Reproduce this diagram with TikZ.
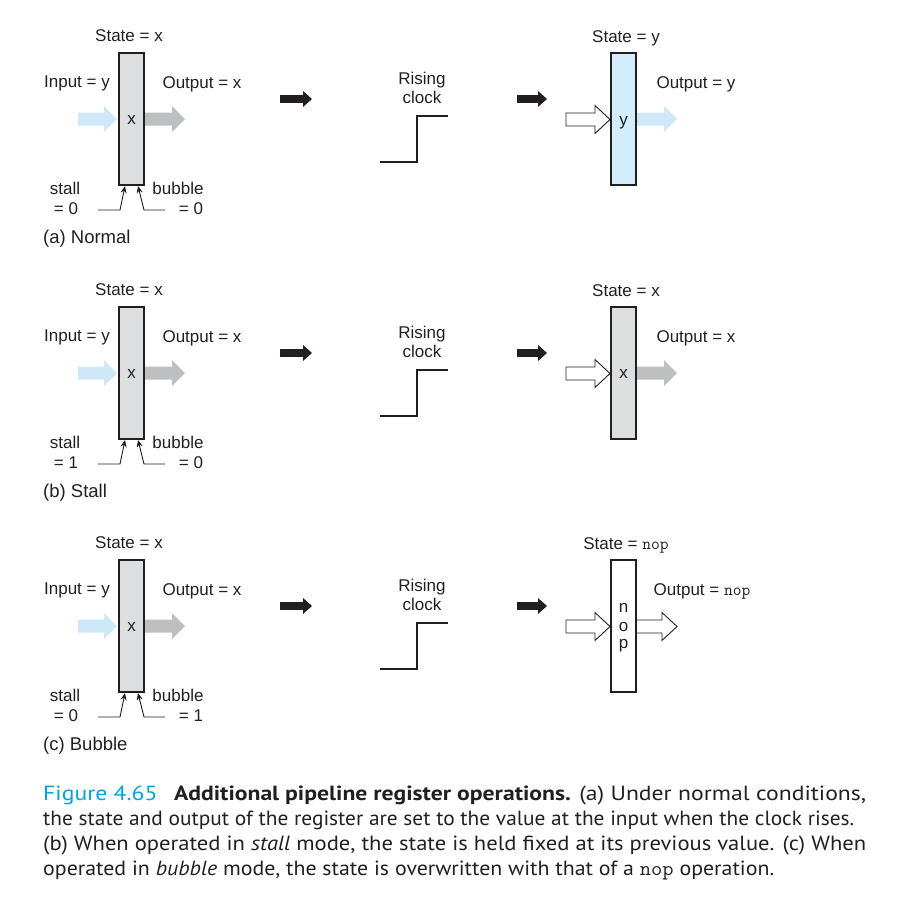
\documentclass[tikz,border=0pt]{standalone}
\usepackage{fontspec}
\usepackage{graphicx}
\setmainfont{Liberation Sans}
\newfontfamily\capfont{PT Sans}
\usetikzlibrary{arrows.meta}
\definecolor{reggray}{RGB}{221,222,223}
\definecolor{regblue}{RGB}{212,237,250}
\definecolor{arrblue}{RGB}{207,232,248}
\definecolor{arrgray}{RGB}{190,191,193}
\definecolor{figcyan}{RGB}{0,162,224}
\definecolor{ink}{RGB}{35,31,32}
% block arrow: #1 style, #2 x start, #3 x end, #4 y, #5 half shaft, #6 half head, #7 head length
\newcommand\blockarrow[7]{%
  \path[#1] (#2,#4-#5) -- (#3-#7,#4-#5) -- (#3-#7,#4-#6) -- (#3,#4)
    -- (#3-#7,#4+#6) -- (#3-#7,#4+#5) -- (#2,#4+#5) -- cycle;}
% left half of a panel: #1 offset, #2 id, #3 stall, #4 bubble, #5 label
\newcommand\leftpanel[5]{%
  \begin{scope}[yshift=-#1pt]
    \blockarrow{fill=arrblue}{78}{117}{119}{6.5}{13}{13}
    \blockarrow{fill=arrgray}{145}{185}{119}{6.5}{13}{13}
    \node[reg, fill=reggray] (L#2) at (131.5,119) {};
    \node[lbl] at (131.5,124) {x};
    \node[lbl] at (129,41.5) {State = x};
    \node[lbl] at (77,87) {Input = y};
    \node[lbl] at (202,88) {Output = x};
    \node[lbl] at (65,194) {stall};
    \node[lbl] at (66,214) {= #3};
    \node[lbl] at (178,194) {bubble};
    \node[lbl] at (191,214) {= #4};
    \node[lbl, anchor=base west, font=\fontsize{18.5}{22}\selectfont] at (43,243) {#5};
    \coordinate (S#2) at (98,210);
    \coordinate (B#2) at (165,210);
    \draw[ctl] (S#2) -- ++(22,0) -- ([xshift=-6.5pt]L#2.south);
    \draw[ctl] (B#2) -- ++(-21,0) -- ([xshift=6.5pt]L#2.south);
    \blockarrow{fill=ink}{280}{312}{99}{3.8}{8}{9}
    \node[lbl] (R#2) at (422,84) {Rising};
    \node[lbl] at (422,103) {clock};
    \coordinate (C#2) at (380,162);
    \draw[clk] (C#2) -- ++(37,0) -- ++(0,-46) -- ++(31,0);
    \blockarrow{fill=ink}{517}{547}{99}{3.8}{8}{9}
    \blockarrow{draw=ink, line width=0.9pt, fill=white}{566}{610}{119.5}{6.5}{14}{15}
  \end{scope}}
\begin{document}
\begin{tikzpicture}[x=1pt,y=-1pt,
  font=\fontsize{17}{20}\selectfont,
  lbl/.style={anchor=base, inner sep=0pt, text=ink},
  reg/.style={draw=ink, line width=2.2pt, minimum width=25pt, minimum height=132pt, inner sep=0pt},
  ctl/.style={draw=ink, line width=0.9pt, -{Stealth[length=7pt,width=6pt]}},
  clk/.style={draw=ink, line width=1.8pt},
  capline/.style={anchor=base west, inner sep=0pt, text=ink, font=\capfont\fontsize{20.5}{24}\selectfont}]
\useasboundingbox (0,0) rectangle (916,919);

% (a) Normal
\leftpanel{0}{a}{0}{0}{(a) Normal}
\blockarrow{fill=arrblue}{636}{677}{119}{6.5}{13}{13}
\node[reg, fill=regblue] (Ra) at (623.5,119) {};
\node[lbl] at (623.5,125) {y};
\node[lbl] at (626,42) {State = y};
\node[lbl] at (696,88) {Output = y};

% (b) Stall
\leftpanel{254}{b}{1}{0}{(b) Stall}
\begin{scope}[yshift=-254pt]
\blockarrow{fill=arrgray}{636}{677}{119}{6.5}{13}{13}
\node[reg, fill=reggray] (Rb) at (623.5,119) {};
\node[lbl] at (623.5,124) {x};
\node[lbl] at (626,42) {State = x};
\node[lbl] at (696,88) {Output = x};
\end{scope}

% (c) Bubble
\leftpanel{507}{c}{0}{1}{(c) Bubble}
\begin{scope}[yshift=-507pt]
\blockarrow{draw=ink, line width=0.9pt, fill=white}{636}{677}{119.5}{6.5}{14}{15}
\node[reg, fill=white] (Rc) at (623.5,119) {};
\node[lbl] at (623.5,105) {n};
\node[lbl] at (623.5,124) {o};
\node[lbl] at (623.5,141) {p};
\node[lbl] at (626,42) {State = {\ttfamily nop}};
\node[lbl] at (702,88) {Output = {\ttfamily nop}};
\end{scope}

% caption
\node[capline] (cap1) at (43,800) {\resizebox{823pt}{\height}{{\color{figcyan}Figure 4.65}\hspace{0.7em}\textbf{Additional pipeline register operations.} (a) Under normal conditions,}};
\node[capline] (cap2) at (43,825) {\resizebox{811pt}{\height}{the state and output of the register are set to the value at the input when the clock rises.}};
\node[capline] (cap3) at (43,850) {\resizebox{823pt}{\height}{(b) When operated in \textit{stall} mode, the state is held fixed at its previous value. (c) When}};
\node[capline] (cap4) at (43,875) {\resizebox{731pt}{\height}{operated in \textit{bubble} mode, the state is overwritten with that of a {\ttfamily nop} operation.}};
\end{tikzpicture}
\end{document}
